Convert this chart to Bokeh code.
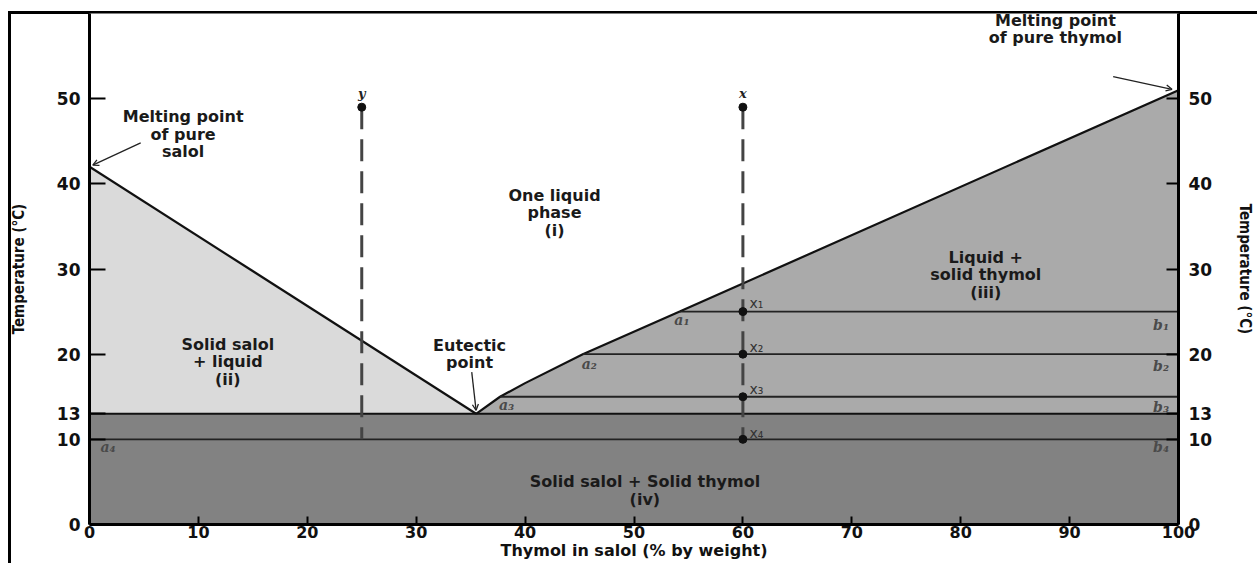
from bokeh.plotting import figure
from bokeh.models import (Range1d, FixedTicker, LinearAxis, Arrow, OpenHead)
from bokeh.core.properties import value
from bokeh.embed import file_html
from bokeh.resources import INLINE

# ---------------- data ----------------
y_ticks = [0, 10, 13, 20, 30, 40, 50]
x_ticks = [0, 10, 20, 30, 40, 50, 60, 70, 80, 90, 100]

# salol liquidus (melting point of pure salol -> eutectic)
salol_comp = [0, 35.5]
salol_temp = [42, 13]
# thymol liquidus (eutectic -> melting point of pure thymol)
thymol_comp = [35.5, 37.7, 40, 45.3, 54.2, 60, 100]
thymol_temp = [13, 15, 16.6, 20, 25, 28.3, 51]

eutectic_temp = 13
solidus_low = 10

# tie lines (a_i -> b_i)
tie_temp = [25, 20, 15, 10]
tie_start = [54.2, 45.3, 37.7, 0]
tie_end = [100, 100, 100, 100]

# cooling paths
path_x_comp = 60
path_x_top = 49
path_x_points = [49, 25, 20, 15, 10]
path_y_comp = 25
path_y_top = 49
path_y_bottom = 10

# region labels
region_text = ["Melting point\nof pure\nsalol", "One liquid\nphase\n(i)",
               "Solid salol\n+ liquid\n(ii)", "Eutectic\npoint",
               "Liquid +\nsolid thymol\n(iii)", "Melting point\nof pure thymol",
               "Solid salol + Solid thymol\n(iv)"]
region_x = [8.6, 42.7, 12.7, 34.9, 82.3, 88.7, 51.0]
region_y = [45.8, 36.6, 19.1, 20.0, 29.3, 58.2, 4.0]

a_text = ["a\u2081", "a\u2082", "a\u2083", "a\u2084"]
a_x = [54.4, 45.9, 38.3, 1.7]
a_y = [24.0, 18.8, 14.0, 9.1]
b_text = ["b\u2081", "b\u2082", "b\u2083", "b\u2084"]
b_x = [98.4, 98.4, 98.4, 98.4]
b_y = [23.4, 18.6, 13.8, 9.1]
xl_text = ["x\u2081", "x\u2082", "x\u2083", "x\u2084"]
xl_x = [60.6, 60.6, 60.6, 60.6]
xl_y = [26.0, 20.8, 15.9, 10.8]

# arrows: (x_start, y_start, x_end, y_end)
arrows = [(4.7, 44.8, 0.3, 42.2), (94.0, 52.6, 99.4, 51.1), (35.1, 17.9, 35.5, 13.4)]

# ---------------- figure ----------------
p = figure(width=1257, height=563, output_backend="svg", toolbar_location=None,
           x_range=Range1d(0, 100), y_range=Range1d(0, 60),
           min_border_left=89, min_border_right=77, min_border_top=13, min_border_bottom=39,
           x_axis_label="Thymol in salol (% by weight)", y_axis_label="Temperature (\u00b0C)")
p.outline_line_color = None
p.xgrid.visible = False
p.ygrid.visible = False
p.background_fill_color = "white"
p.border_fill_alpha = 0
p.styles = {"box-shadow": "inset 8px 11px 0 0 white, inset 11px 14px 0 0 black"}

# fills
p.patch([0, 100, 100, 0], [0, 0, eutectic_temp, eutectic_temp], fill_color="#828282", line_color=None)
p.patch([0] + salol_comp + [0], [eutectic_temp] + salol_temp + [eutectic_temp],
        fill_color="#dadada", line_color=None)
p.patch(thymol_comp + [100], thymol_temp + [eutectic_temp], fill_color="#aaaaaa", line_color=None)

# lines
p.line(salol_comp, salol_temp, line_color="#111111", line_width=2.2)
p.line(thymol_comp, thymol_temp, line_color="#111111", line_width=2.2)
p.line([0, 100], [eutectic_temp, eutectic_temp], line_color="#111111", line_width=2)
for t, s, e in zip(tie_temp, tie_start, tie_end):
    p.line([s, e], [t, t], line_color="#222222", line_width=1.8)

# cooling paths
p.line([path_y_comp, path_y_comp], [path_y_top, path_y_bottom], line_color="#444444",
       line_width=3, line_dash="22 10")
p.line([path_x_comp, path_x_comp], [path_x_top, solidus_low], line_color="#444444",
       line_width=3, line_dash="22 10")
p.scatter([path_y_comp], [path_y_top], size=8, color="#111111")
p.scatter([path_x_comp] * len(path_x_points), path_x_points, size=8, color="#111111")

# texts
p.text(region_x, region_y, text=region_text, text_font=value("DejaVu Sans"),
       text_font_size="16px", text_font_style="bold", text_align="center",
       text_baseline="middle", text_line_height=0.92, text_color="#1a1a1a")
for tx, xs, ys in [(a_text, a_x, a_y), (b_text, b_x, b_y)]:
    p.text(xs, ys, text=tx, text_font=value("DejaVu Serif"), text_font_size="14px",
           text_font_style="bold italic", text_align="center", text_baseline="middle",
           text_color="#4a4a4a")
p.text(xl_x, xl_y, text=xl_text, text_font=value("DejaVu Sans"), text_font_size="14px",
       text_font_style="normal", text_align="left", text_baseline="middle", text_color="#333333")
p.text([path_y_comp, path_x_comp], [50.6, 50.6], text=["y", "x"], text_font=value("DejaVu Serif"),
       text_font_size="13px", text_font_style="bold italic", text_align="center",
       text_baseline="middle", text_color="#222222")

for xs, ys, xe, ye in arrows:
    p.add_layout(Arrow(end=OpenHead(size=6, line_width=1.3, line_color="#222222"),
                       x_start=xs, y_start=ys, x_end=xe, y_end=ye,
                       line_width=1.3, line_color="#222222"))

# axes
xa = p.xaxis[0]
xa.ticker = FixedTicker(ticks=x_ticks)
xa.major_tick_in = 8
xa.major_tick_out = 0
xa.minor_tick_line_color = None
xa.axis_line_width = 3
xa.major_tick_line_width = 2
xa.major_label_text_font = "DejaVu Sans"
xa.major_label_text_font_style = "bold"
xa.major_label_text_font_size = "16px"
xa.major_label_text_color = "#111111"
xa.major_label_standoff = 1
xa.axis_label_standoff = 0
xa.axis_label_text_font = "DejaVu Sans"
xa.axis_label_text_font_style = "bold"
xa.axis_label_text_font_size = "16px"
xa.axis_label_text_color = "#111111"

ya = p.yaxis[0]
ya.ticker = FixedTicker(ticks=y_ticks)
ya.major_tick_in = 16
ya.major_tick_out = 0
ya.minor_tick_line_color = None
ya.axis_line_width = 3
ya.major_tick_line_width = 2
ya.major_label_text_font = "DejaVu Sans"
ya.major_label_text_font_style = "bold"
ya.major_label_text_font_size = "17px"
ya.major_label_text_color = "#111111"
ya.major_label_standoff = 9
ya.axis_label_standoff = 26
ya.axis_label_text_font = "DejaVu Sans Condensed"
ya.axis_label_text_font_style = "bold"
ya.axis_label_text_font_size = "15px"
ya.axis_label_text_color = "#111111"

ra = LinearAxis(ticker=FixedTicker(ticks=y_ticks), axis_label="Temperature (\u00b0C)")
ra.major_tick_in = 12
ra.major_tick_out = 0
ra.minor_tick_line_color = None
ra.axis_line_width = 3
ra.major_tick_line_width = 2
ra.major_label_text_font = "DejaVu Sans"
ra.major_label_text_font_style = "bold"
ra.major_label_text_font_size = "17px"
ra.major_label_text_color = "#111111"
ra.major_label_standoff = 10
ra.axis_label_standoff = 21
ra.axis_label_text_font = "DejaVu Sans Condensed"
ra.axis_label_text_font_style = "bold"
ra.axis_label_text_font_size = "15px"
ra.axis_label_text_color = "#111111"
p.add_layout(ra, "right")

open("out.html", "w").write(file_html(p, INLINE))
